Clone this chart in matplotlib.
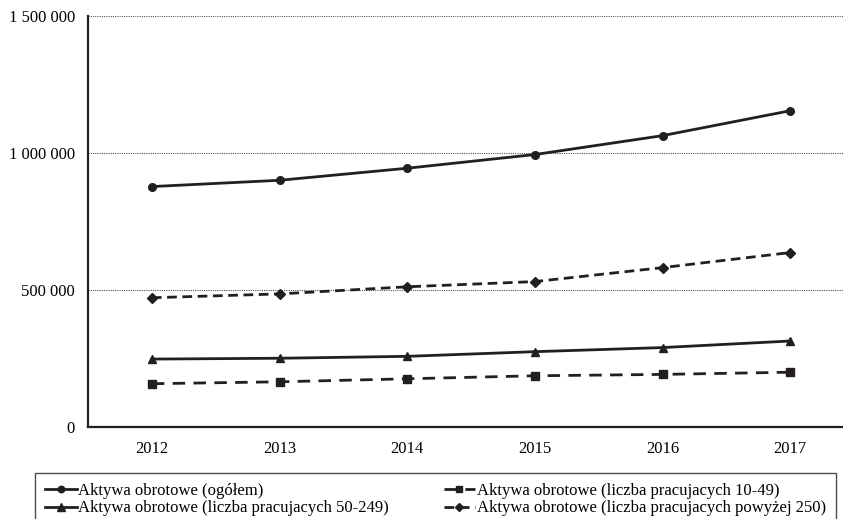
import matplotlib
matplotlib.use("Agg")
import matplotlib.pyplot as plt

# Aktywa obrotowe w latach 2012-2017
years = ["2012", "2013", "2014", "2015", "2016", "2017"]
ogolem = [877000, 900000, 944000, 994000, 1063000, 1154000]
prac_10_49 = [157000, 164000, 175000, 186000, 191000, 199000]
prac_50_249 = [247000, 250000, 257000, 274000, 289000, 313000]
prac_250 = [471000, 485000, 511000, 530000, 581000, 636000]

y_ticks = [0, 500000, 1000000, 1500000]
y_tick_labels = ["0", "500 000", "1 000 000", "1 500 000"]

labels = [
    "Aktywa obrotowe (ogółem)",
    "Aktywa obrotowe (liczba pracujacych 10-49)",
    "Aktywa obrotowe (liczba pracujacych 50-249)",
    "Aktywa obrotowe (liczba pracujacych powyżej 250)",
]

plt.rcParams["font.family"] = ["Liberation Serif", "DejaVu Serif"]
plt.rcParams["font.size"] = 12

ink = "#231f20"
W, H = 843, 519
fig = plt.figure(figsize=(W / 100, H / 100), dpi=100)
ax = fig.add_axes([88 / W, (H - 426.7) / H, (854 - 88) / W, (426.7 - 16) / H])

x = list(range(len(years)))
lw = 2.0
l1, = ax.plot(x, ogolem, color=ink, lw=lw, marker="o", ms=5.5, label=labels[0])
l2, = ax.plot(x, prac_10_49, color=ink, lw=lw, marker="s", ms=5.5,
              linestyle=(0, (4.5, 3)), label=labels[1])
l3, = ax.plot(x, prac_50_249, color=ink, lw=lw, marker="^", ms=6, label=labels[2])
l4, = ax.plot(x, prac_250, color=ink, lw=lw, marker="D", ms=5,
              linestyle=(0, (3.5, 2)), label=labels[3])

ax.set_xlim(-0.5, len(years) - 0.5)
ax.set_ylim(0, 1500000)
ax.set_xticks(x)
ax.set_xticklabels(years)
ax.set_yticks(y_ticks)
ax.set_yticklabels(y_tick_labels)
ax.tick_params(axis="both", length=0, labelcolor="black")
ax.tick_params(axis="y", pad=9.5)
ax.tick_params(axis="x", pad=10)

for yv in y_ticks[1:]:
    ax.axhline(yv, color="#555555", lw=0.8, linestyle=(0, (1, 1)), zorder=0)

for side in ("top", "right"):
    ax.spines[side].set_visible(False)
for side in ("left", "bottom"):
    ax.spines[side].set_color(ink)
    ax.spines[side].set_linewidth(1.6)

leg = fig.legend(
    handles=[l1, l3, l2, l4],
    labels=[labels[0], labels[2], labels[1], labels[3]],
    ncol=2,
    loc="upper left",
    bbox_to_anchor=(35 / W, 0, (836 - 35) / W, 1 - 473 / H),
    bbox_transform=fig.transFigure,
    mode="expand",
    borderaxespad=0,
    frameon=True,
    fancybox=False,
    handlelength=1.9,
    handletextpad=0.1,
    labelspacing=0.08,
    borderpad=0.6,
    fontsize=12,
    markerscale=0.85,
)
leg.get_frame().set_edgecolor(ink)
leg.get_frame().set_linewidth(1.0)

fig.savefig("out.png", dpi=100)
